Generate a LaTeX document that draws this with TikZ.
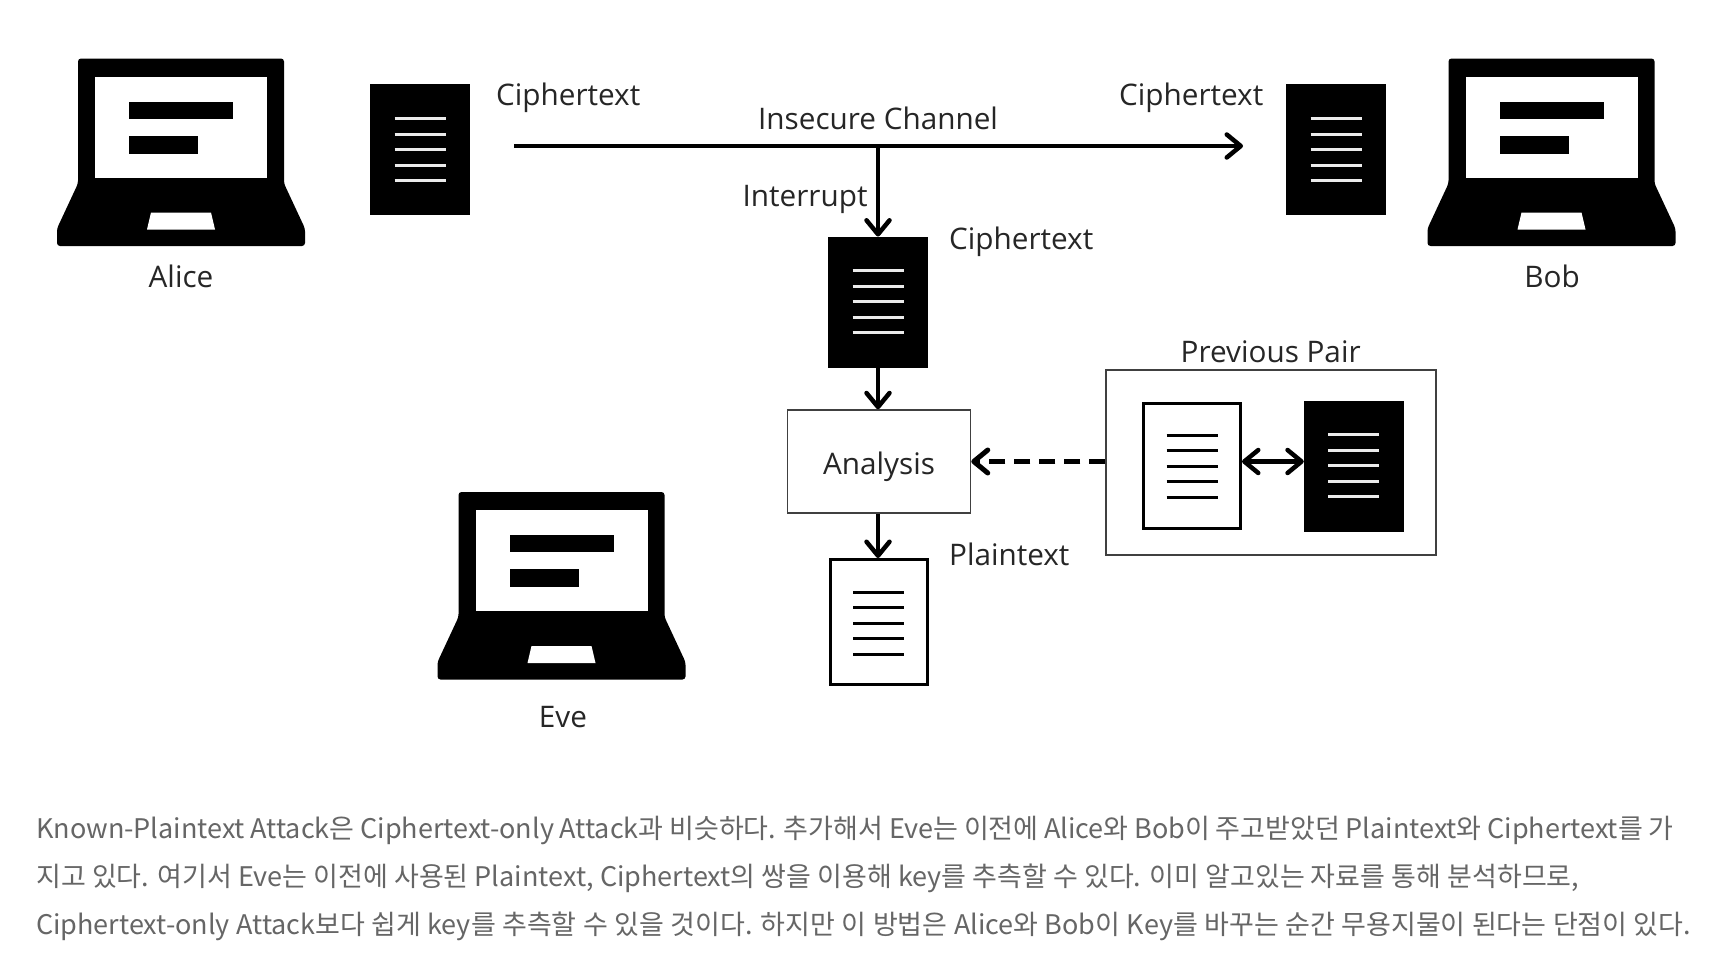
\documentclass[tikz,border=0pt]{standalone}
\usepackage{fontspec}
\setmainfont{Open Sans}
\newfontfamily\krfont{Noto Sans CJK KR}
\usetikzlibrary{arrows.meta}
\usetikzlibrary{positioning}
\definecolor{bodygray}{HTML}{666666}
\tikzstyle{cipherdoc} = [rectangle, minimum width=99pt, minimum height=130.5pt, inner sep=0pt, draw=black, fill=black]
\tikzstyle{plaindoc} = [rectangle, minimum width=96pt, minimum height=125pt, inner sep=0pt, line width=3pt, draw=black, fill=white]
\tikzstyle{boxframe} = [rectangle, inner sep=0pt, line width=1.5pt, draw=black!75]
\tikzstyle{textlabel} = [anchor=base west, inner sep=0pt, font=\fontsize{29.7}{34}\selectfont, text=black!85]
\tikzstyle{person} = [anchor=base, inner sep=0pt, font=\fontsize{29.7}{34}\selectfont, text=black!85]
\tikzstyle{para} = [anchor=base west, inner sep=0pt, font=\krfont\fontsize{27}{32}\selectfont, text=bodygray]
\tikzstyle{flow} = [line width=4.5pt, -{Straight Barb[length=14pt,width=23pt,round]}]
% text lines of a document
\newcommand{\doclines}[3]{
 \foreach \ly in {0,...,4}
  \draw [#2, line width=3pt] ([shift={(-25.5,#3+15.5*\ly)}]#1.north) -- ([shift={(25.5,#3+15.5*\ly)}]#1.north);
}
% laptop icon, top centre at the given point
\newcommand{\laptop}[2]{
 \begin{scope}[shift={(#1,#2)}]
  \fill [black, rounded corners=3pt] (-103,0) -- (103,0) -- (103,125) -- (124,170) -- (124,187.5) -- (-124,187.5) -- (-124,170) -- (-103,125) -- cycle;
  \fill [white] (-86,18) rectangle (86,119);
  \fill [black] (-52,43) rectangle (52,60);
  \fill [black] (-52,77) rectangle (17,95);
  \fill [white] (-30,154) -- (30,154) -- (34,171) -- (-34,171) -- cycle;
 \end{scope}
}

\begin{document}
\begin{tikzpicture}[x=1pt, y=-1pt]
 \useasboundingbox [fill=white] (0,0) rectangle (1718,972);

 \laptop{181}{58.5}
 \laptop{1551.5}{58.5}
 \laptop{561.5}{492}

 \node (alice) [person] at (181,287) {Alice};
 \node (bob) [person] at (1552,287) {Bob};
 \node (eve) [person] at (563,727) {Eve};

 \node (alicedoc) [cipherdoc] at (420,149) {};
 \node (bobdoc) [cipherdoc] at (1336,149) {};
 \node (evedoc) [cipherdoc] at (878,302) {};
 \node (analysis) [boxframe, minimum width=183pt, minimum height=103pt, font=\fontsize{29.7}{34}\selectfont, text=black!85, text height=25pt, text depth=0pt] at (879,461.5) {Analysis};
 \node (plainout) [plaindoc, minimum width=97pt] at (878.5,622) {};
 \node (pair) [boxframe, minimum width=330pt, minimum height=185pt] at (1271,462.5) {};
 \node (pairplain) [plaindoc, minimum width=97pt] at (1192,466) {};
 \node (paircipher) [cipherdoc, minimum height=130pt] at (1353.5,466) {};

 \doclines{alicedoc}{white!92!black}{35}
 \doclines{bobdoc}{white!92!black}{35}
 \doclines{evedoc}{white!92!black}{34}
 \doclines{paircipher}{white!92!black}{34}
 \doclines{plainout}{black}{34}
 \doclines{pairplain}{black}{33}

 \node (ctleft) [textlabel] at (496,105) {Ciphertext};
 \node (ctright) [textlabel] at (1119,105) {Ciphertext};
 \node (channel) [textlabel] at (758,129.5) {Insecure Channel};
 \node (interrupt) [textlabel] at (742.5,206) {Interrupt};
 \node (ctmid) [textlabel] at (949,249) {Ciphertext};
 \node (ptlabel) [textlabel] at (949,565) {Plaintext};
 \node (pairlabel) [textlabel] at (1180.5,362) {Previous Pair};

 \coordinate (chstart) at (514,146);
 \coordinate (chend) at (1243,146);
 \coordinate (tap) at (878,146);

 \draw [flow] (chstart) -- (chend);
 \draw [flow] (tap) -- (evedoc.north);
 \draw [flow] (evedoc.south) -- (evedoc.south |- analysis.north);
 \draw [flow] (evedoc.south |- analysis.south) -- (evedoc.south |- plainout.north);
 \draw [flow, line width=5pt, dash pattern=on 16pt off 9pt] (pair.west |- analysis.east) -- (analysis.east);
 \draw [flow, {Straight Barb[length=14pt,width=23pt,round]}-{Straight Barb[length=14pt,width=23pt,round]}] (pairplain.east |- analysis.east) -- (paircipher.west |- analysis.east);

 \node (line1) [para] at (36,838.5) {\spaceskip=5.7pt Known-Plaintext Attack은 Ciphertext-only Attack과 비슷하다. 추가해서 Eve는 이전에 Alice와 Bob이 주고받았던 Plaintext와 Ciphertext를 가};
 \node (line2) [para] at (36,886.5) {\spaceskip=6.15pt 지고 있다. 여기서 Eve는 이전에 사용된 Plaintext, Ciphertext의 쌍을 이용해 key를 추측할 수 있다. 이미 알고있는 자료를 통해 분석하므로,};
 \node (line3) [para] at (36,934.5) {\spaceskip=6.4pt Ciphertext-only Attack보다 쉽게 key를 추측할 수 있을 것이다. 하지만 이 방법은 Alice와 Bob이 Key를 바꾸는 순간 무용지물이 된다는 단점이 있다.};
\end{tikzpicture}
\end{document}
